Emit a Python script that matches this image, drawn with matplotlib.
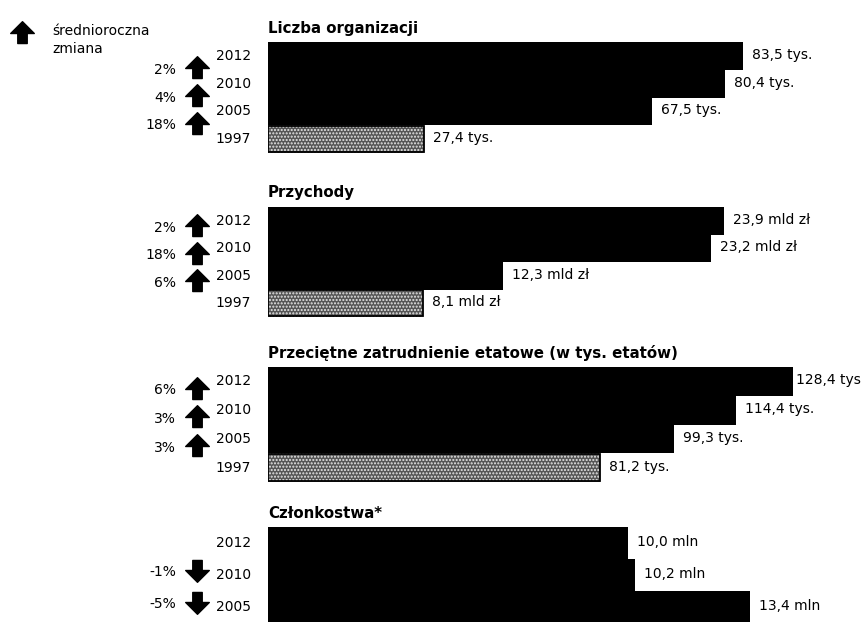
#!/usr/bin/env python3
"""Organizacje pozarzadowe 1997-2012: cztery panele slupkowe ze zmiana srednioroczna."""

import matplotlib
matplotlib.use("Agg")
import matplotlib.pyplot as plt
import matplotlib.transforms as mtransforms
from matplotlib.path import Path

plt.rcParams["font.family"] = ["DejaVu Sans"]

LATA = ["2012", "2010", "2005", "1997"]

TYTULY = [
    "Liczba organizacji",
    "Przychody",
    "Przeciętne zatrudnienie etatowe (w tys. etatów)",
    "Członkostwa*",
]

ORGANIZACJE = [83.5, 80.4, 67.5, 27.4]
PRZYCHODY = [23.9, 23.2, 12.3, 8.1]
ZATRUDNIENIE = [128.4, 114.4, 99.3, 81.2]
CZLONKOSTWA = [10.0, 10.2, 13.4]

ETYKIETY_ORG = ["83,5 tys.", "80,4 tys.", "67,5 tys.", "27,4 tys."]
ETYKIETY_PRZ = ["23,9 mld zł", "23,2 mld zł", "12,3 mld zł", "8,1 mld zł"]
ETYKIETY_ZAT = ["128,4 tys", "114,4 tys.", "99,3 tys.", "81,2 tys."]
ETYKIETY_CZL = ["10,0 mln", "10,2 mln", "13,4 mln"]

ZMIANA_ORG = [2, 4, 18]
ZMIANA_PRZ = [2, 18, 6]
ZMIANA_ZAT = [6, 3, 3]
ZMIANA_CZL = [-1, -5]

# uklad w pikselach: gora slupkow, wysokosc slupka, piksele na jednostke, przesuniecie zmiany
UKLAD = [
    (42, 27.75, 5.69, 0.5),
    (207, 27.5, 19.1, 0.25),
    (367, 28.75, 4.09, 0.3),
    (527, 32.0, 36.0, 0.9),
]
# odstep etykiety od konca slupka (px); najdluzszy slupek zatrudnienia ma ciasny odstep
ODSTEPY = [
    [9, 9, 9, 9],
    [9, 9, 9, 9],
    [3, 9, 9, 9],
    [9, 9, 9],
]

W, H = 863, 622
LEWA = 268
FS = 10

STRZALKA_W_GORE = Path(
    [(0, 1), (1, 0.0), (0.4, 0.0), (0.4, -0.85), (-0.4, -0.85), (-0.4, 0.0), (-1, 0.0), (0, 1)],
    [Path.MOVETO] + [Path.LINETO] * 6 + [Path.CLOSEPOLY],
)
STRZALKA_W_DOL = Path(
    [(x, -y) for x, y in STRZALKA_W_GORE.vertices], STRZALKA_W_GORE.codes
)


def fx(px):
    return px / W


def fy(py):
    return 1 - py / H


def rysuj_panel(fig, wartosci, etykiety, zmiany, tytul, uklad, odstepy):
    gora, wys_slupka, skala, przes = uklad
    n = len(wartosci)
    wys_px = n * wys_slupka
    ax = fig.add_axes([fx(LEWA), fy(gora + wys_px), fx(W - LEWA), wys_px / H])
    ax.set_xlim(0, (W - LEWA) / skala)
    ax.set_ylim(n - 0.5, -0.5)
    ax.axis("off")

    for i, (v, et) in enumerate(zip(wartosci, etykiety)):
        if LATA[i] == "1997":
            ax.barh(i, v, height=1.0, color="#555555", hatch=".....", edgecolor="#e8e8e8", linewidth=0)
            ax.barh(i, v, height=0.96, fill=False, edgecolor="black", linewidth=1.3)
        else:
            ax.barh(i, v, height=1.0, color="black", linewidth=0)
        ax.annotate(et, xy=(v, i), xytext=(odstepy[i], 1), textcoords="offset pixels",
                    ha="left", va="center", fontsize=FS, annotation_clip=False)

    tr = mtransforms.blended_transform_factory(fig.transFigure, ax.transData)
    for i in range(n):
        ax.text(fx(251), i, LATA[i], transform=tr, ha="right", va="center", fontsize=FS)

    for i, z in enumerate(zmiany):
        y = i + przes
        ax.text(fx(176), y, f"{z}%", transform=tr, ha="right", va="center", fontsize=FS)
        znacznik = STRZALKA_W_GORE if z >= 0 else STRZALKA_W_DOL
        ax.plot([fx(197)], [y - 0.05], marker=znacznik, markersize=17, color="black",
                linestyle="none", transform=tr, clip_on=False)

    fig.text(fx(LEWA), fy(gora - 14), tytul, ha="left", va="center",
             fontsize=10.8, fontweight="bold")
    return ax


def main():
    fig = plt.figure(figsize=(W / 100, H / 100), dpi=100)
    fig.patch.set_facecolor("white")

    dane = [ORGANIZACJE, PRZYCHODY, ZATRUDNIENIE, CZLONKOSTWA]
    etykiety = [ETYKIETY_ORG, ETYKIETY_PRZ, ETYKIETY_ZAT, ETYKIETY_CZL]
    zmiany = [ZMIANA_ORG, ZMIANA_PRZ, ZMIANA_ZAT, ZMIANA_CZL]
    for wart, et, zm, tyt, ukl, ods in zip(dane, etykiety, zmiany, TYTULY, UKLAD, ODSTEPY):
        rysuj_panel(fig, wart, et, zm, tyt, ukl, ods)

    # legenda strzalki
    fig.lines.append(plt.Line2D([fx(22)], [fy(33)], marker=STRZALKA_W_GORE, markersize=17,
                                color="black", linestyle="none", transform=fig.transFigure))
    fig.text(fx(52), fy(24), "średnioroczna\nzmiana", ha="left", va="top",
             fontsize=FS, linespacing=1.35)

    fig.savefig("out.png", dpi=100)
    plt.close(fig)


if __name__ == "__main__":
    main()
